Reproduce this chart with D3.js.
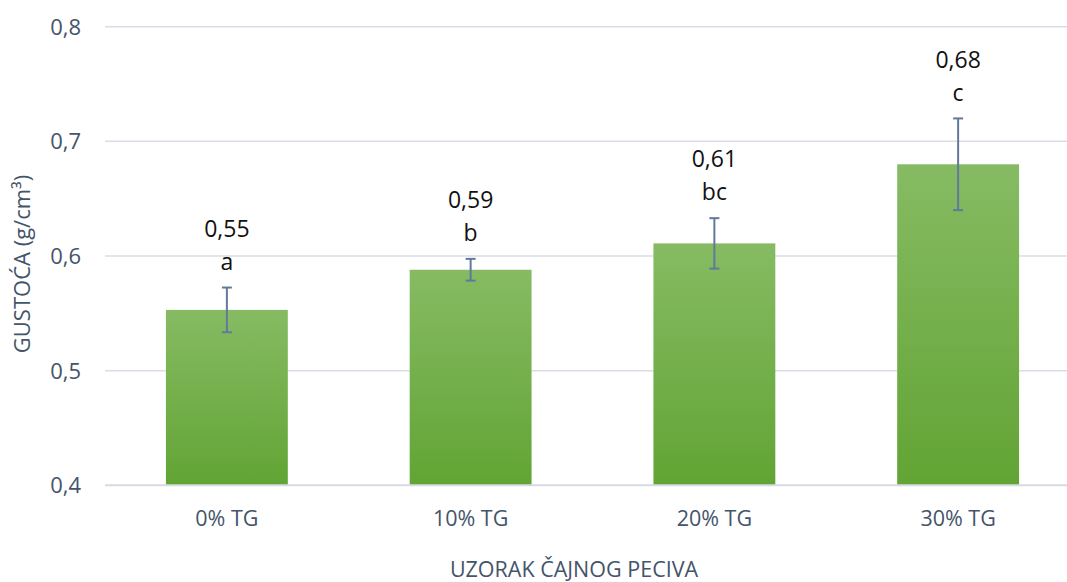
<!DOCTYPE html>
<html>
<head>
<meta charset="utf-8">
<script src="https://cdn.jsdelivr.net/npm/d3@7/dist/d3.min.js"></script>
<style>
  html, body { margin: 0; padding: 0; background: #fff; }
  svg { display: block; font-family: "Open Sans", sans-serif; }
</style>
</head>
<body>
<svg id="chart" width="1067" height="582"></svg>
<script>
const categories = ["0% TG", "10% TG", "20% TG", "30% TG"];
const values = [0.553, 0.588, 0.611, 0.680];
const errors = [0.0195, 0.0095, 0.022, 0.040];
const valueLabels = ["0,55", "0,59", "0,61", "0,68"];
const letterLabels = ["a", "b", "bc", "c"];
const yTicks = [0.4, 0.5, 0.6, 0.7, 0.8];
const yTitle = "GUSTOĆA (g/cm³)";
const xTitle = "UZORAK ČAJNOG PECIVA";

(function () {
const svg = d3.select("#chart");
const pLeft = 105, pRight = 1080, pTop = 26.7, pBottom = 485.3;

const x = d3.scaleBand().domain(categories).range([pLeft, pRight]).paddingInner(0.5).paddingOuter(0.25);
const y = d3.scaleLinear().domain([0.4, 0.8]).range([pBottom, pTop]);

const defs = svg.append("defs");
const grad = defs.append("linearGradient").attr("id", "barGrad")
  .attr("x1", 0).attr("y1", 0).attr("x2", 0).attr("y2", 1);
grad.append("stop").attr("offset", "0%").attr("stop-color", "#86bb63");
grad.append("stop").attr("offset", "100%").attr("stop-color", "#62a434");

// gridlines
svg.append("g").selectAll("line").data(yTicks.filter(t => t > 0.4)).join("line")
  .attr("x1", pLeft).attr("x2", pRight)
  .attr("y1", d => y(d)).attr("y2", d => y(d))
  .attr("stroke", "#d9dee6").attr("stroke-width", 1.5);

// y tick labels via axis
const yAxis = d3.axisLeft(y).tickValues(yTicks).tickSize(0).tickPadding(0)
  .tickFormat(d => d3.format(".1f")(d).replace(".", ","));
const yg = svg.append("g").attr("transform", `translate(${pLeft - 24},0)`).call(yAxis);
yg.select(".domain").remove();
yg.selectAll("text").attr("fill", "#44546a").style("font-size", "22px")
  .style("font-family", "'Open Sans', sans-serif").attr("dy", "0.34em");

// bars
svg.append("g").selectAll("rect").data(categories).join("rect")
  .attr("x", d => x(d)).attr("width", x.bandwidth())
  .attr("y", (d, i) => y(values[i])).attr("height", (d, i) => y(0.4) - y(values[i]))
  .attr("fill", "url(#barGrad)");

// x axis line
svg.append("line").attr("x1", pLeft).attr("x2", pRight).attr("y1", y(0.4)).attr("y2", y(0.4))
  .attr("stroke", "#d6dbe3").attr("stroke-width", 2);

// x axis labels
const xAxis = d3.axisBottom(x).tickSize(0).tickPadding(0);
const xg = svg.append("g").attr("transform", `translate(0,${y(0.4)})`).call(xAxis);
xg.select(".domain").remove();
xg.selectAll("text").attr("fill", "#44546a").style("font-size", "21.5px")
  .style("font-family", "'Open Sans', sans-serif").attr("y", 33).attr("dy", "0.34em");

// error bars
const eg = svg.append("g").attr("stroke", "#61799b").attr("stroke-width", 2);
categories.forEach((c, i) => {
  const cx = x(c) + x.bandwidth() / 2;
  const y1 = y(values[i] + errors[i]), y2 = y(values[i] - errors[i]);
  eg.append("line").attr("x1", cx).attr("x2", cx).attr("y1", y1).attr("y2", y2);
  eg.append("line").attr("x1", cx - 5).attr("x2", cx + 5).attr("y1", y1).attr("y2", y1);
  eg.append("line").attr("x1", cx - 5).attr("x2", cx + 5).attr("y1", y2).attr("y2", y2);
});

// data labels
const lg = svg.append("g").attr("text-anchor", "middle").attr("fill", "#111").style("font-size", "23px");
categories.forEach((c, i) => {
  const cx = x(c) + x.bandwidth() / 2;
  const ye = y(values[i] + errors[i]);
  lg.append("text").attr("x", cx).attr("y", ye - 59).attr("dy", "0.36em").text(valueLabels[i]);
  lg.append("text").attr("x", cx).attr("y", ye - 26).attr("dy", "0.36em").text(letterLabels[i]);
});

// axis titles
svg.append("text").attr("transform", `translate(22,${(pTop + pBottom) / 2 + 8}) rotate(-90)`)
  .attr("text-anchor", "middle").attr("dy", "0.35em").attr("fill", "#44546a")
  .style("font-size", "22px").text(yTitle);
svg.append("text").attr("x", 574).attr("y", 569).attr("dy", "0.35em")
  .attr("text-anchor", "middle").attr("fill", "#44546a").style("font-size", "21.5px").text(xTitle);
})();
</script>
</body>
</html>
